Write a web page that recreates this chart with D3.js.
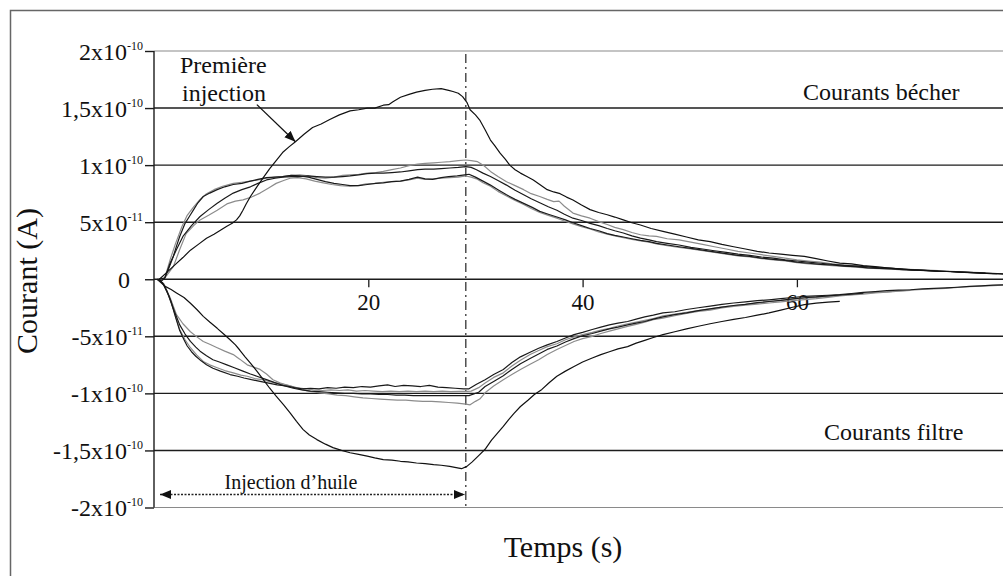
<!DOCTYPE html>
<html>
<head>
<meta charset="utf-8">
<script src="https://cdn.jsdelivr.net/npm/d3@7"></script>
<style>
  body { margin: 0; background: #fff; }
  svg { display: block; }
  text { font-family: "Liberation Serif", "Times New Roman", serif; fill: #111; }
</style>
</head>
<body>
<svg id="chart" width="1003" height="576"></svg>
<script>
// Time (s) and current (units of 1e-11 A) for the beaker and filter electrodes.
const timeTicks = [20, 40, 60];
const currentTicks = [20, 15, 10, 5, 0, -5, -10, -15, -20];
const currentTickMantissa = ["2", "1,5", "1", "5", "0", "-5", "-1", "-1,5", "-2"];
const currentTickExponent = ["-10", "-10", "-10", "-11", "", "-11", "-10", "-10", "-10"];
const injectionStart = 0.56;
const injectionEnd = 29.1;

// Beaker currents, first injection
const becherFirst = [[0.5,0.0],[1.2,0.6],[2.0,1.3],[2.7,1.9],[3.4,2.55],[4.2,3.1],[4.9,3.6],[5.6,3.95],[6.2,4.3],[6.8,4.65],[7.3,4.9],[7.7,5.2],[8.0,5.55],[8.3,6.05],[8.6,6.6],[9.0,7.25],[9.6,8.1],[10.2,8.9],[10.8,9.7],[11.4,10.4],[12.0,11.1],[12.6,11.6],[13.2,12.05],[14.0,12.7],[14.8,13.3],[15.6,13.6],[16.4,14.0],[17.3,14.4],[18.3,14.75],[19.1,14.85],[19.9,15.0],[20.6,15.0],[21.4,15.25],[21.9,15.3],[22.3,15.55],[23.0,15.95],[23.8,16.2],[24.5,16.4],[25.3,16.55],[26.0,16.65],[26.8,16.7],[27.5,16.55],[27.9,16.45],[28.4,16.3],[28.8,16.0],[29.2,15.5],[29.5,14.85],[30.0,14.4],[30.4,13.95],[30.9,13.1],[31.4,12.2],[31.8,11.7],[32.3,11.05],[32.8,10.5],[33.2,10.0],[33.7,9.6],[34.2,9.3],[34.8,9.0],[35.4,8.7],[36.0,8.3],[36.7,7.85],[37.3,7.65],[37.9,7.5],[38.5,7.2],[39.1,6.95],[39.9,6.5],[40.7,6.1],[41.5,5.85],[42.3,5.65],[43.0,5.45],[43.8,5.2],[44.6,4.95],[45.4,4.75],[46.4,4.45],[47.5,4.2],[48.6,3.95],[49.7,3.7],[50.8,3.45],[51.9,3.3],[53.0,3.05],[54.1,2.85],[55.2,2.65],[56.3,2.45],[57.4,2.3],[58.5,2.2],[59.6,2.1],[60.7,2.0],[61.8,1.8],[62.9,1.6],[64.0,1.42],[65.1,1.35],[66.2,1.2],[67.3,1.1],[68.4,1.0],[69.5,0.92],[70.7,0.83],[71.8,0.78],[72.9,0.72],[74.0,0.68],[75.1,0.62],[76.2,0.58],[77.3,0.54],[78.3,0.5],[79.3,0.48]];

// Beaker currents, following injections
const becherB = [[0.3,0.0],[0.7,-0.15],[1.0,0.1],[1.4,1.0],[1.8,2.0],[2.1,2.9],[2.4,3.75],[2.9,4.9],[3.3,5.5],[3.7,6.1],[4.1,6.7],[4.6,7.25],[5.2,7.55],[5.9,7.85],[6.6,8.1],[7.4,8.3],[8.2,8.4],[9.0,8.6],[9.7,8.75],[10.5,8.9],[11.3,8.95],[12.0,9.0],[12.8,9.1],[13.6,9.05],[14.4,8.95],[15.2,8.75],[16.0,8.55],[16.8,8.4],[17.6,8.3],[18.3,8.2],[19.1,8.2],[19.9,8.3],[20.7,8.4],[21.4,8.45],[22.2,8.55],[23.0,8.6],[23.8,8.75],[24.6,8.95],[25.3,8.8],[26.0,8.75],[26.8,8.9],[27.5,9.0],[28.3,9.05],[29.0,9.15],[29.4,9.2],[30.0,8.95],[30.7,8.6],[31.4,8.25],[32.1,7.85],[32.9,7.4],[33.7,7.0],[34.5,6.65],[35.3,6.3],[36.0,5.95],[36.8,5.7],[37.6,5.45],[38.4,5.2],[39.1,4.95],[39.9,4.7],[40.7,4.45],[41.5,4.25],[42.3,4.0],[43.0,3.85],[43.8,3.7],[44.6,3.55],[45.4,3.4],[46.2,3.3],[46.9,3.15],[47.9,3.0],[49.0,2.85],[50.1,2.7],[51.2,2.55],[52.3,2.4],[53.4,2.25],[54.5,2.1],[55.6,2.0],[56.7,1.85],[57.8,1.75],[58.9,1.65],[60.0,1.5],[61.1,1.4],[62.2,1.3],[63.3,1.25],[64.4,1.15],[65.5,1.1],[66.6,1.0],[67.7,0.95],[68.8,0.9],[69.9,0.85],[71.0,0.8],[72.1,0.75],[73.2,0.7],[74.3,0.68],[75.4,0.62],[76.5,0.58],[77.6,0.52],[78.7,0.5],[79.3,0.45]];
const becherC = [[0.4,0.0],[1.0,0.1],[1.5,1.7],[2.0,3.1],[2.6,4.6],[3.1,5.6],[3.7,6.35],[4.3,7.0],[4.9,7.5],[5.6,7.85],[6.4,8.15],[7.4,8.4],[8.2,8.5],[9.0,8.6],[9.7,8.7],[10.5,8.85],[11.3,8.95],[12.0,9.0],[12.8,9.1],[13.6,9.15],[14.4,9.05],[15.2,8.9],[16.0,8.85],[16.8,8.95],[17.6,9.1],[18.3,9.15],[19.1,9.2],[19.9,9.3],[20.7,9.35],[21.4,9.45],[22.2,9.6],[23.0,9.75],[23.8,9.95],[24.6,10.1],[25.3,10.15],[26.1,10.2],[26.8,10.25],[27.6,10.3],[28.4,10.4],[29.1,10.45],[29.6,10.4],[30.2,10.3],[30.8,9.95],[31.4,9.45],[32.1,9.0],[32.9,8.55],[33.7,8.2],[34.5,7.85],[35.2,7.5],[36.0,7.25],[36.7,7.0],[37.3,6.8],[37.8,6.85],[38.3,6.4],[39.1,5.8],[39.9,5.55],[40.7,5.35],[41.5,5.05],[42.3,4.8],[43.0,4.55],[43.8,4.35],[44.6,4.1],[45.4,3.9],[46.2,3.8],[46.9,3.75],[47.9,3.55],[49.0,3.45],[50.1,3.25],[51.2,3.05],[52.3,2.85],[53.4,2.65],[54.5,2.45],[55.6,2.3],[56.7,2.15],[57.8,2.0],[58.9,1.85],[60.0,1.7],[61.1,1.6],[62.2,1.5],[63.3,1.35],[64.4,1.25],[65.5,1.2],[66.6,1.1],[67.7,1.05],[68.8,0.98],[69.9,0.9],[71.0,0.85],[72.1,0.8],[73.2,0.75],[74.3,0.7],[75.4,0.65],[76.5,0.6],[77.6,0.55]];
const becherD = [[0.4,0.0],[1.0,0.1],[1.5,1.4],[2.1,2.6],[2.7,3.75],[3.5,4.7],[4.3,5.5],[5.1,6.1],[5.9,6.65],[6.6,7.1],[7.4,7.55],[8.2,7.85],[9.0,8.1],[9.7,8.4],[10.5,8.7],[11.3,8.85],[12.0,8.95],[12.8,9.0],[13.6,9.0],[14.4,9.05],[15.2,9.0],[16.0,8.95],[16.8,8.95],[17.6,9.0],[18.3,9.05],[19.1,9.15],[19.9,9.25],[20.7,9.3],[21.4,9.3],[22.2,9.35],[23.0,9.4],[23.8,9.5],[24.6,9.6],[25.3,9.65],[26.1,9.65],[26.8,9.7],[27.6,9.75],[28.4,9.8],[29.1,9.87],[29.6,9.8],[30.1,9.6],[30.7,9.3],[31.4,9.0],[32.1,8.65],[32.9,8.25],[33.7,7.8],[34.5,7.4],[35.2,7.05],[36.0,6.7],[36.8,6.35],[37.6,6.05],[38.3,5.7],[39.1,5.35],[39.9,5.15],[40.7,4.9],[41.5,4.7],[42.3,4.45],[43.0,4.25],[43.8,4.05],[44.6,3.8],[45.4,3.6],[46.2,3.45],[46.9,3.3],[47.9,3.15],[49.0,3.0],[50.1,2.8],[51.2,2.65],[52.3,2.5],[53.4,2.35],[54.5,2.2],[55.6,2.1],[56.7,1.95],[57.8,1.85],[58.9,1.7],[60.0,1.6],[61.1,1.5],[62.2,1.4],[63.3,1.3],[64.4,1.22],[65.5,1.15],[66.6,1.08],[67.7,1.0],[68.8,0.95],[69.9,0.88],[71.0,0.82],[72.1,0.78],[73.2,0.72],[74.3,0.68],[75.4,0.63],[76.5,0.58],[77.6,0.54],[78.7,0.5]];
const becherE = [[0.5,0.0],[1.0,0.1],[1.8,1.1],[2.4,2.6],[3.0,4.0],[3.7,4.7],[4.3,5.2],[5.1,5.6],[5.9,6.05],[6.8,6.6],[7.6,6.85],[8.3,6.95],[9.1,7.2],[9.9,7.55],[10.7,8.0],[11.4,8.4],[12.1,8.65],[12.7,8.85],[13.4,8.9],[14.2,8.8],[15.0,8.6],[15.8,8.45],[16.6,8.3],[17.4,8.2],[18.2,8.15],[19.0,8.2],[19.8,8.35],[20.6,8.4],[21.4,8.5],[22.2,8.55],[23.0,8.6],[23.8,8.7],[24.6,8.85],[25.3,8.75],[26.1,8.8],[26.8,8.85],[27.6,8.9],[28.4,8.95],[29.1,9.05],[29.6,8.95],[30.1,8.8],[30.7,8.45],[31.4,8.15],[32.1,7.7],[32.9,7.3],[33.7,6.9],[34.5,6.55],[35.2,6.2],[36.0,5.85],[36.8,5.6],[37.6,5.35],[38.3,5.1],[39.1,4.85],[39.9,4.6],[40.7,4.4],[41.5,4.15],[42.3,3.95],[43.0,3.8],[43.8,3.65],[44.6,3.5],[45.4,3.35],[46.2,3.25],[46.9,3.1],[47.9,2.95],[49.0,2.8],[50.1,2.65],[51.2,2.5],[52.3,2.35],[53.4,2.2],[54.5,2.05],[55.6,1.95],[56.7,1.8],[57.8,1.7],[58.9,1.6],[60.0,1.45],[61.1,1.35],[62.2,1.28],[63.3,1.2],[64.4,1.12],[65.5,1.05],[66.6,0.98],[67.7,0.92],[68.8,0.88],[69.9,0.82],[71.0,0.78]];

// Filter currents, first injection
const filtreFirst = [[0.5,0.0],[1.0,-0.6],[1.6,-0.9],[2.1,-1.2],[2.8,-1.6],[3.4,-2.1],[4.0,-2.65],[4.6,-3.25],[5.2,-3.75],[5.9,-4.3],[6.5,-4.8],[7.1,-5.3],[7.6,-5.75],[8.0,-6.2],[8.5,-6.8],[9.0,-7.35],[9.6,-8.05],[10.2,-8.8],[10.8,-9.55],[11.4,-10.25],[12.1,-11.0],[12.7,-11.7],[13.3,-12.45],[13.9,-13.15],[14.5,-13.65],[15.2,-14.05],[16.0,-14.45],[16.7,-14.75],[17.5,-15.0],[18.3,-15.2],[19.1,-15.35],[19.9,-15.5],[20.6,-15.65],[21.4,-15.8],[22.2,-15.85],[23.0,-15.95],[23.7,-16.0],[24.5,-16.1],[25.3,-16.15],[26.1,-16.25],[26.8,-16.3],[27.6,-16.4],[28.2,-16.5],[28.7,-16.6],[29.2,-16.4],[29.7,-16.0],[30.3,-15.45],[30.9,-14.9],[31.5,-14.1],[32.0,-13.55],[32.6,-12.9],[33.1,-12.3],[33.6,-11.75],[34.2,-11.15],[34.9,-10.6],[35.5,-10.1],[36.2,-9.65],[36.9,-9.05],[37.6,-8.5],[38.4,-8.05],[39.2,-7.65],[40.0,-7.25],[40.9,-6.9],[41.7,-6.6],[42.5,-6.35],[43.3,-6.1],[44.2,-5.9],[45.0,-5.6],[45.8,-5.35],[46.6,-5.1],[47.5,-4.85],[48.6,-4.6],[49.7,-4.35],[50.8,-4.12],[51.9,-3.9],[53.0,-3.7],[54.1,-3.52],[55.2,-3.35],[56.3,-3.15],[57.4,-2.95],[58.5,-2.7],[59.6,-2.45],[60.7,-2.22],[61.8,-2.1],[62.9,-2.0],[64.0,-1.94]];

// Filter currents, following injections
const filtreB = [[0.3,0.0],[0.8,-0.3],[1.2,-1.0],[1.6,-2.0],[2.0,-3.3],[2.4,-4.5],[2.8,-5.3],[3.1,-5.85],[3.5,-6.35],[3.9,-6.75],[4.4,-7.15],[4.9,-7.5],[5.5,-7.8],[6.2,-8.05],[7.1,-8.35],[7.8,-8.5],[8.4,-8.65],[9.1,-8.8],[9.9,-8.95],[10.7,-9.1],[11.5,-9.25],[12.3,-9.35],[13.1,-9.5],[13.8,-9.6],[14.6,-9.55],[15.4,-9.6],[16.2,-9.5],[17.0,-9.55],[17.8,-9.45],[18.6,-9.5],[19.4,-9.4],[20.2,-9.45],[21.0,-9.35],[21.8,-9.25],[22.5,-9.4],[23.3,-9.3],[24.1,-9.35],[24.9,-9.4],[25.7,-9.3],[26.5,-9.45],[27.3,-9.5],[28.1,-9.55],[28.9,-9.6],[29.4,-9.6],[30.1,-9.2],[30.9,-8.8],[31.7,-8.35],[32.6,-7.9],[33.4,-7.3],[34.2,-6.8],[35.1,-6.4],[35.9,-6.05],[36.7,-5.75],[37.6,-5.45],[38.4,-5.15],[39.2,-4.85],[40.0,-4.65],[40.9,-4.4],[41.7,-4.2],[42.5,-4.0],[43.3,-3.85],[44.2,-3.7],[45.0,-3.5],[45.8,-3.3],[46.6,-3.15],[47.5,-2.95],[48.6,-2.85],[49.7,-2.65],[50.8,-2.5],[51.9,-2.35],[53.0,-2.2],[54.1,-2.08],[55.2,-1.98],[56.3,-1.88],[57.4,-1.8],[58.5,-1.7],[59.6,-1.6],[60.7,-1.5],[61.8,-1.45],[62.9,-1.4],[64.0,-1.35],[65.1,-1.25],[66.2,-1.15],[67.3,-1.08],[68.4,-1.0],[69.5,-0.95],[70.6,-0.92],[71.7,-0.85],[72.8,-0.8],[73.9,-0.76],[75.0,-0.7],[76.1,-0.62],[77.2,-0.58],[78.3,-0.52],[79.4,-0.48]];
const filtreC = [[0.3,0.0],[0.9,-0.4],[1.3,-1.3],[1.8,-2.6],[2.4,-4.4],[2.9,-5.3],[3.4,-6.0],[4.0,-6.65],[4.6,-7.2],[5.2,-7.5],[5.9,-7.75],[6.6,-8.0],[7.4,-8.2],[8.1,-8.4],[8.7,-8.5],[9.4,-8.7],[10.1,-8.8],[10.9,-9.0],[11.7,-9.15],[12.5,-9.3],[13.3,-9.5],[14.1,-9.6],[14.9,-9.7],[15.7,-9.75],[16.5,-9.7],[17.3,-9.75],[18.1,-9.7],[18.9,-9.8],[19.7,-9.75],[20.5,-9.8],[21.3,-9.85],[22.1,-9.8],[22.9,-9.85],[23.7,-9.8],[24.5,-9.85],[25.3,-9.8],[26.1,-9.85],[26.9,-9.8],[27.7,-9.85],[28.5,-9.82],[29.2,-9.82],[29.6,-9.8],[30.3,-9.5],[30.9,-9.1],[31.7,-8.6],[32.6,-8.2],[33.4,-7.6],[34.2,-7.1],[35.1,-6.6],[35.9,-6.25],[36.7,-5.9],[37.6,-5.65],[38.4,-5.3],[39.2,-5.05],[40.0,-4.85],[40.9,-4.65],[41.7,-4.45],[42.5,-4.3],[43.3,-4.1],[44.2,-3.9],[45.0,-3.75],[45.8,-3.6],[46.6,-3.45],[47.5,-3.2],[48.6,-3.05],[49.7,-2.9],[50.8,-2.75],[51.9,-2.6],[53.0,-2.45],[54.1,-2.3],[55.2,-2.2],[56.3,-2.1],[57.4,-1.95],[58.5,-1.85],[59.6,-1.75],[60.7,-1.65],[61.8,-1.58],[62.9,-1.5],[64.0,-1.42],[65.1,-1.35],[66.2,-1.25],[67.3,-1.15],[68.4,-1.1],[69.5,-1.02],[70.6,-0.95],[71.7,-0.9],[72.8,-0.85],[73.9,-0.8],[75.0,-0.72],[76.1,-0.65],[77.2,-0.6],[78.3,-0.55],[79.4,-0.5]];
const filtreD = [[0.3,0.0],[0.9,-0.5],[1.4,-1.5],[1.9,-2.8],[2.4,-4.0],[2.9,-4.8],[3.4,-5.45],[3.9,-5.95],[4.3,-6.3],[4.9,-6.7],[5.5,-7.05],[6.1,-7.25],[6.8,-7.5],[7.5,-7.75],[8.3,-8.05],[9.0,-8.3],[9.6,-8.5],[10.5,-8.8],[11.4,-9.1],[12.2,-9.35],[13.0,-9.55],[13.8,-9.7],[14.6,-9.8],[15.4,-9.85],[16.2,-9.9],[17.0,-9.95],[17.8,-10.0],[18.6,-10.0],[19.4,-10.05],[20.2,-10.05],[21.0,-10.1],[21.8,-10.1],[22.6,-10.15],[23.4,-10.15],[24.2,-10.2],[25.0,-10.2],[25.8,-10.2],[26.6,-10.2],[27.4,-10.2],[28.2,-10.2],[29.0,-10.2],[29.4,-10.2],[30.3,-9.9],[30.9,-9.4],[31.7,-8.95],[32.6,-8.45],[33.4,-7.9],[34.2,-7.4],[35.1,-6.95],[35.9,-6.55],[36.7,-6.15],[37.6,-5.85],[38.4,-5.5],[39.2,-5.2],[40.0,-4.95],[40.9,-4.75],[41.7,-4.55],[42.5,-4.35],[43.3,-4.2],[44.2,-4.0],[45.0,-3.85],[45.8,-3.7],[46.6,-3.5],[47.5,-3.3],[48.6,-3.1],[49.7,-2.95],[50.8,-2.75],[51.9,-2.6],[53.0,-2.45],[54.1,-2.3],[55.2,-2.2],[56.3,-2.05],[57.4,-1.95],[58.5,-1.85],[59.6,-1.72],[60.7,-1.62],[61.8,-1.55],[62.9,-1.45],[64.0,-1.38],[65.1,-1.3],[66.2,-1.22]];
const filtreE = [[0.3,0.0],[0.9,-0.4],[1.5,-1.6],[2.1,-3.1],[2.7,-3.9],[3.4,-4.6],[4.0,-5.05],[4.6,-5.45],[5.2,-5.7],[5.9,-6.0],[6.6,-6.3],[7.4,-6.6],[8.0,-7.0],[8.7,-7.5],[9.3,-7.7],[9.9,-7.9],[10.5,-8.3],[11.1,-8.8],[11.8,-9.1],[12.5,-9.3],[13.2,-9.5],[13.9,-9.7],[14.7,-9.85],[15.5,-9.95],[16.3,-10.05],[17.1,-10.15],[17.9,-10.2],[18.7,-10.3],[19.5,-10.4],[20.3,-10.45],[21.1,-10.5],[21.9,-10.55],[22.7,-10.6],[23.5,-10.6],[24.3,-10.65],[25.1,-10.7],[25.9,-10.7],[26.7,-10.75],[27.5,-10.8],[28.3,-10.85],[29.1,-10.95],[29.5,-11.0],[30.0,-10.7],[30.4,-10.5],[30.9,-9.95],[31.7,-9.35],[32.6,-8.8],[33.4,-8.35],[34.2,-7.9],[35.1,-7.45],[35.9,-7.05],[36.7,-6.6],[37.6,-6.15],[38.4,-5.8],[39.2,-5.45],[40.0,-5.2],[40.9,-5.0],[41.7,-4.75],[42.5,-4.55],[43.3,-4.35],[44.2,-4.13],[45.0,-3.95],[45.8,-3.75],[46.6,-3.55],[47.5,-3.4],[48.6,-3.2],[49.7,-3.0],[50.8,-2.82],[51.9,-2.7],[53.0,-2.52],[54.1,-2.38],[55.2,-2.28],[56.3,-2.18],[57.4,-2.08],[58.5,-1.98],[59.6,-1.88],[60.7,-1.79],[61.8,-1.7],[62.9,-1.58],[64.0,-1.45],[65.1,-1.38],[66.2,-1.3],[67.3,-1.2],[68.4,-1.12],[69.5,-1.05],[70.6,-0.98]];

const series = [
  { values: becherE, color: "#8c8c8c" },
  { values: becherC, color: "#8c8c8c" },
  { values: filtreE, color: "#8c8c8c" },
  { values: filtreC, color: "#8c8c8c" },
  { values: becherB, color: "#1a1a1a" },
  { values: becherD, color: "#1a1a1a" },
  { values: filtreB, color: "#1a1a1a" },
  { values: filtreD, color: "#1a1a1a" },
  { values: becherFirst, color: "#111" },
  { values: filtreFirst, color: "#111" }
];

const svg = d3.select("#chart");
const x = d3.scaleLinear().domain([0, 80]).range([154, 1011.2]);
const y = d3.scaleLinear().domain([-20, 20]).range([507.5, 51]);
const right = 1003;

// outer frame
svg.append("rect")
  .attr("x", 10.5).attr("y", 10.5).attr("width", 1010).attr("height", 600)
  .attr("fill", "none").attr("stroke", "#666").attr("stroke-width", 1.5);

const defs = svg.append("defs");
defs.append("clipPath").attr("id", "plotClip").append("rect")
  .attr("x", x(0)).attr("y", y(20) - 2).attr("width", right - x(0)).attr("height", y(-20) - y(20) + 4);
defs.append("marker").attr("id", "head")
  .attr("markerUnits", "userSpaceOnUse").attr("markerWidth", 12).attr("markerHeight", 10)
  .attr("refX", 11).attr("refY", 4.5).attr("orient", "auto-start-reverse")
  .append("path").attr("d", "M0,0 L11,4.5 L0,9 Z").attr("fill", "#111");

// horizontal grid lines
svg.append("g").selectAll("line").data(currentTicks).join("line")
  .attr("x1", x(0)).attr("x2", right)
  .attr("y1", d => y(d)).attr("y2", d => y(d))
  .attr("stroke", d => Math.abs(d) === 20 ? "#8a8a8a" : "#1c1c1c")
  .attr("stroke-width", d => Math.abs(d) === 20 ? 1.2 : 1.4);

// vertical axis with exponent tick labels
const yAxis = svg.append("g").attr("transform", `translate(${x(0)},0)`)
  .call(d3.axisLeft(y).tickValues(currentTicks).tickSize(9).tickSizeOuter(0).tickFormat(""));
yAxis.select(".domain").remove();
yAxis.selectAll(".tick line").attr("stroke", "#1c1c1c").attr("stroke-width", 1.4);
yAxis.selectAll(".tick text").remove();
yAxis.selectAll(".tick").each(function(d) {
  const i = currentTicks.indexOf(d);
  const t = d3.select(this).append("text")
    .attr("text-anchor", "end").attr("y", 8).attr("font-size", 24);
  if (currentTickExponent[i] === "") {
    t.attr("x", -24).text(currentTickMantissa[i]);
  } else {
    t.attr("x", -11);
    t.append("tspan").text(currentTickMantissa[i] + "x10");
    t.append("tspan").attr("font-size", 12).attr("dy", -10).text(currentTickExponent[i]);
  }
});
svg.append("line").attr("x1", x(0)).attr("x2", x(0)).attr("y1", y(20)).attr("y2", y(-20))
  .attr("stroke", "#1c1c1c").attr("stroke-width", 1.4);

// time axis along zero current
const xAxis = svg.append("g").attr("transform", `translate(0,${y(0)})`)
  .call(d3.axisBottom(x).tickValues(timeTicks).tickSize(8).tickSizeOuter(0).tickFormat(d3.format("d")));
xAxis.select(".domain").remove();
xAxis.selectAll(".tick line").attr("stroke", "#1c1c1c").attr("stroke-width", 1.3);
xAxis.selectAll(".tick text").attr("font-size", 23).attr("y", 31).attr("dy", 0)
  .attr("font-family", "Liberation Serif, serif").attr("fill", "#111");

// end of oil injection
svg.append("line").attr("x1", x(injectionEnd)).attr("x2", x(injectionEnd))
  .attr("y1", y(20) + 3).attr("y2", y(-20))
  .attr("stroke", "#333").attr("stroke-width", 1.3).attr("stroke-dasharray", "9,4,2,4");

// current traces
const line = d3.line().x(d => x(d[0])).y(d => y(d[1])).curve(d3.curveLinear);
svg.append("g").attr("clip-path", "url(#plotClip)").selectAll("path").data(series).join("path")
  .attr("d", d => line(d.values))
  .attr("fill", "none").attr("stroke", d => d.color).attr("stroke-width", 1.2)
  .attr("stroke-linejoin", "round");

// annotations
const ann = svg.append("g");
ann.append("text").attr("x", 180).attr("y", 73).attr("font-size", 24).text("Première");
ann.append("text").attr("x", 182).attr("y", 101).attr("font-size", 24).text("injection");
ann.append("line")
  .attr("x1", x(9.6)).attr("y1", y(15.3)).attr("x2", x(13.2)).attr("y2", y(12.05))
  .attr("stroke", "#111").attr("stroke-width", 1.3).attr("marker-end", "url(#head)");

ann.append("text").attr("x", 803).attr("y", 100).attr("font-size", 24).text("Courants bécher");
ann.append("text").attr("x", 824).attr("y", 440).attr("font-size", 24).text("Courants filtre");

ann.append("line")
  .attr("x1", x(injectionStart)).attr("x2", x(injectionEnd) - 1)
  .attr("y1", y(-18.86)).attr("y2", y(-18.86))
  .attr("stroke", "#222").attr("stroke-width", 1.5).attr("stroke-dasharray", "2,1.5")
  .attr("marker-start", "url(#head)").attr("marker-end", "url(#head)");
ann.append("text").attr("x", (x(injectionStart) + x(injectionEnd)) / 2 - 22).attr("y", 489)
  .attr("text-anchor", "middle").attr("font-size", 20).text("Injection d’huile");

// axis titles
svg.append("text").attr("x", 563).attr("y", 557).attr("text-anchor", "middle")
  .attr("font-size", 30).text("Temps (s)");
svg.append("text").attr("transform", "translate(37,281) rotate(-90)")
  .attr("text-anchor", "middle").attr("font-size", 30).text("Courant (A)");
</script>
</body>
</html>
